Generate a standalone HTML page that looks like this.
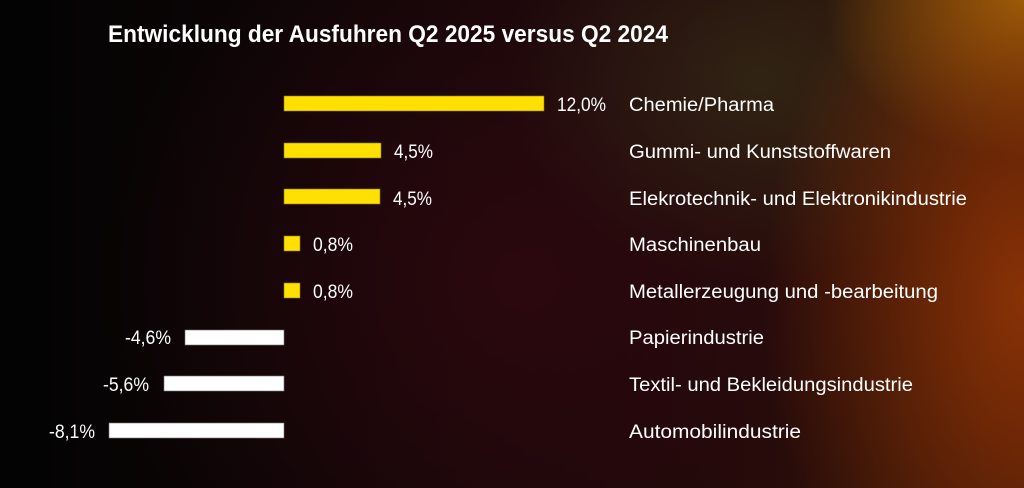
<!DOCTYPE html>
<html><head><meta charset="utf-8"><style>
html,body{margin:0;padding:0}
body{width:1024px;height:488px;overflow:hidden;position:relative;
background:
radial-gradient(ellipse 260px 420px at 1024px 300px, rgba(150,55,5,0.85), rgba(0,0,0,0) 100%),
radial-gradient(ellipse 200px 160px at 1024px 0px, rgba(170,110,10,0.9), rgba(0,0,0,0) 100%),
radial-gradient(ellipse 260px 200px at 760px 80px, rgba(60,60,30,0.5), rgba(0,0,0,0) 100%),
radial-gradient(ellipse 420px 400px at 520px 280px, rgba(45,8,14,0.9), rgba(0,0,0,0) 100%),
linear-gradient(90deg,#030303 0%,#0d0506 30%,#1c080a 60%,#2a0f08 85%,#3a1408 100%);}
svg{position:absolute;left:0;top:0}
text{font-family:"Liberation Sans Narrow","Liberation Sans",sans-serif;fill:#fff}
</style></head><body>
<svg width="1024" height="488" viewBox="0 0 1024 488">
<text x="108" y="42" font-size="24" font-weight="bold" textLength="560" lengthAdjust="spacingAndGlyphs">Entwicklung der Ausfuhren Q2 2025 versus Q2 2024</text>
<g fill="#ffe000" stroke="#8a7a00" stroke-width="0.6">
<rect x="284" y="96" width="260" height="15"/>
<rect x="284" y="143" width="97" height="15"/>
<rect x="284" y="189" width="96" height="15"/>
<rect x="284" y="236" width="16" height="15"/>
<rect x="284" y="283" width="16" height="15"/>
</g>
<g fill="#fff" stroke="#777" stroke-width="0.6">
<rect x="185" y="330" width="99" height="15"/>
<rect x="164" y="376" width="120" height="15"/>
<rect x="109" y="423" width="175" height="15"/>
</g>
<g font-size="19">
<text x="557" y="111" textLength="49" lengthAdjust="spacingAndGlyphs">12,0%</text>
<text x="394" y="158" textLength="39" lengthAdjust="spacingAndGlyphs">4,5%</text>
<text x="393" y="205" textLength="39" lengthAdjust="spacingAndGlyphs">4,5%</text>
<text x="313" y="251" textLength="40" lengthAdjust="spacingAndGlyphs">0,8%</text>
<text x="313" y="298" textLength="40" lengthAdjust="spacingAndGlyphs">0,8%</text>
<text x="125" y="344" textLength="46" lengthAdjust="spacingAndGlyphs">-4,6%</text>
<text x="103" y="391" textLength="46" lengthAdjust="spacingAndGlyphs">-5,6%</text>
<text x="49" y="438" textLength="46" lengthAdjust="spacingAndGlyphs">-8,1%</text>
<text x="629" y="111" textLength="145" lengthAdjust="spacingAndGlyphs">Chemie/Pharma</text>
<text x="629" y="158" textLength="262" lengthAdjust="spacingAndGlyphs">Gummi- und Kunststoffwaren</text>
<text x="629" y="205" textLength="338" lengthAdjust="spacingAndGlyphs">Elekrotechnik- und Elektronikindustrie</text>
<text x="629" y="251" textLength="132" lengthAdjust="spacingAndGlyphs">Maschinenbau</text>
<text x="629" y="298" textLength="309" lengthAdjust="spacingAndGlyphs">Metallerzeugung und -bearbeitung</text>
<text x="629" y="344" textLength="135" lengthAdjust="spacingAndGlyphs">Papierindustrie</text>
<text x="629" y="391" textLength="284" lengthAdjust="spacingAndGlyphs">Textil- und Bekleidungsindustrie</text>
<text x="629" y="438" textLength="172" lengthAdjust="spacingAndGlyphs">Automobilindustrie</text>
</g>
</svg>
</body></html>
